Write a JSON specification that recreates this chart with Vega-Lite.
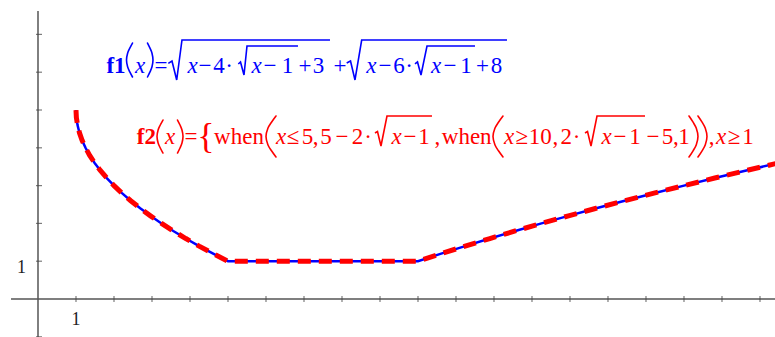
{
  "$schema": "https://vega.github.io/schema/vega-lite/v6.json",
  "width": 775,
  "height": 337,
  "padding": 0,
  "autosize": "none",
  "background": "white",
  "config": {"view": {"stroke": null}},
  "datasets": {
    "curves": [
      {"fn": "f1", "x": 1, "y": 5}, {"fn": "f1", "x": 1.01, "y": 4.8}, {"fn": "f1", "x": 1.04, "y": 4.6},
      {"fn": "f1", "x": 1.09, "y": 4.4}, {"fn": "f1", "x": 1.16, "y": 4.2}, {"fn": "f1", "x": 1.25, "y": 4.0},
      {"fn": "f1", "x": 1.36, "y": 3.8}, {"fn": "f1", "x": 1.49, "y": 3.6}, {"fn": "f1", "x": 1.64, "y": 3.4},
      {"fn": "f1", "x": 1.81, "y": 3.2}, {"fn": "f1", "x": 2, "y": 3.0}, {"fn": "f1", "x": 2.21, "y": 2.8},
      {"fn": "f1", "x": 2.44, "y": 2.6}, {"fn": "f1", "x": 2.69, "y": 2.4}, {"fn": "f1", "x": 2.96, "y": 2.2},
      {"fn": "f1", "x": 3.25, "y": 2.0}, {"fn": "f1", "x": 3.56, "y": 1.8}, {"fn": "f1", "x": 3.89, "y": 1.6},
      {"fn": "f1", "x": 4.24, "y": 1.4}, {"fn": "f1", "x": 4.61, "y": 1.2}, {"fn": "f1", "x": 5, "y": 1.0},
      {"fn": "f1", "x": 10, "y": 1.0}, {"fn": "f1", "x": 10.61, "y": 1.2}, {"fn": "f1", "x": 11.24, "y": 1.4},
      {"fn": "f1", "x": 11.89, "y": 1.6}, {"fn": "f1", "x": 12.56, "y": 1.8}, {"fn": "f1", "x": 13.25, "y": 2.0},
      {"fn": "f1", "x": 13.96, "y": 2.2}, {"fn": "f1", "x": 14.69, "y": 2.4}, {"fn": "f1", "x": 15.44, "y": 2.6},
      {"fn": "f1", "x": 16.21, "y": 2.8}, {"fn": "f1", "x": 17, "y": 3.0}, {"fn": "f1", "x": 17.81, "y": 3.2},
      {"fn": "f1", "x": 18.64, "y": 3.4}, {"fn": "f1", "x": 19.49, "y": 3.6}, {"fn": "f1", "x": 20.36, "y": 3.8},
      {"fn": "f2", "x": 1, "y": 5}, {"fn": "f2", "x": 1.01, "y": 4.8}, {"fn": "f2", "x": 1.04, "y": 4.6},
      {"fn": "f2", "x": 1.09, "y": 4.4}, {"fn": "f2", "x": 1.16, "y": 4.2}, {"fn": "f2", "x": 1.25, "y": 4.0},
      {"fn": "f2", "x": 1.36, "y": 3.8}, {"fn": "f2", "x": 1.49, "y": 3.6}, {"fn": "f2", "x": 1.64, "y": 3.4},
      {"fn": "f2", "x": 1.81, "y": 3.2}, {"fn": "f2", "x": 2, "y": 3.0}, {"fn": "f2", "x": 2.21, "y": 2.8},
      {"fn": "f2", "x": 2.44, "y": 2.6}, {"fn": "f2", "x": 2.69, "y": 2.4}, {"fn": "f2", "x": 2.96, "y": 2.2},
      {"fn": "f2", "x": 3.25, "y": 2.0}, {"fn": "f2", "x": 3.56, "y": 1.8}, {"fn": "f2", "x": 3.89, "y": 1.6},
      {"fn": "f2", "x": 4.24, "y": 1.4}, {"fn": "f2", "x": 4.61, "y": 1.2}, {"fn": "f2", "x": 5, "y": 1.0},
      {"fn": "f2", "x": 10, "y": 1.0}, {"fn": "f2", "x": 10.61, "y": 1.2}, {"fn": "f2", "x": 11.24, "y": 1.4},
      {"fn": "f2", "x": 11.89, "y": 1.6}, {"fn": "f2", "x": 12.56, "y": 1.8}, {"fn": "f2", "x": 13.25, "y": 2.0},
      {"fn": "f2", "x": 13.96, "y": 2.2}, {"fn": "f2", "x": 14.69, "y": 2.4}, {"fn": "f2", "x": 15.44, "y": 2.6},
      {"fn": "f2", "x": 16.21, "y": 2.8}, {"fn": "f2", "x": 17, "y": 3.0}, {"fn": "f2", "x": 17.81, "y": 3.2},
      {"fn": "f2", "x": 18.64, "y": 3.4}, {"fn": "f2", "x": 19.49, "y": 3.6}, {"fn": "f2", "x": 20.36, "y": 3.8}
    ],
    "axisLines": [
      {"x": -0.71, "x2": 19.4, "y": 0, "y2": 0},
      {"x": 0, "x2": 0, "y": -1.1, "y2": 7.62}
    ],
    "xTicks": [
      {"x": 1, "y": 0}, {"x": 2, "y": 0}, {"x": 3, "y": 0}, {"x": 4, "y": 0}, {"x": 5, "y": 0},
      {"x": 6, "y": 0}, {"x": 7, "y": 0}, {"x": 8, "y": 0}, {"x": 9, "y": 0}, {"x": 10, "y": 0},
      {"x": 11, "y": 0}, {"x": 12, "y": 0}, {"x": 13, "y": 0}, {"x": 14, "y": 0}, {"x": 15, "y": 0},
      {"x": 16, "y": 0}, {"x": 17, "y": 0}, {"x": 18, "y": 0}, {"x": 19, "y": 0}
    ],
    "yTicks": [
      {"x": 0, "y": -1}, {"x": 0, "y": 1}, {"x": 0, "y": 2}, {"x": 0, "y": 3}, {"x": 0, "y": 4},
      {"x": 0, "y": 5}, {"x": 0, "y": 6}, {"x": 0, "y": 7}
    ],
    "xLabels": [{"x": 1, "y": 0, "t": "1"}],
    "yLabels": [{"x": 0, "y": 1, "t": "1"}],

    "f1Name": [{"x": 2.053, "y": 5.987, "t": "f1"}],
    "f1Italic": [
      {"x": 2.684, "y": 5.987, "t": "x"}, {"x": 4.066, "y": 5.987, "t": "x"}, {"x": 5.75, "y": 5.987, "t": "x"},
      {"x": 8.776, "y": 5.987, "t": "x"}, {"x": 10.474, "y": 5.987, "t": "x"}
    ],
    "f1Upright": [
      {"x": 3.237, "y": 5.987, "t": "="},
      {"x": 4.395, "y": 5.987, "t": "−"}, {"x": 4.763, "y": 5.987, "t": "4"}, {"x": 5.026, "y": 5.987, "t": "·"},
      {"x": 6.105, "y": 5.987, "t": "−"}, {"x": 6.566, "y": 5.987, "t": "1"},
      {"x": 7.026, "y": 5.987, "t": "+"}, {"x": 7.382, "y": 5.987, "t": "3"},
      {"x": 7.947, "y": 5.987, "t": "+"},
      {"x": 9.132, "y": 5.987, "t": "−"}, {"x": 9.5, "y": 5.987, "t": "6"}, {"x": 9.763, "y": 5.987, "t": "·"},
      {"x": 10.842, "y": 5.987, "t": "−"}, {"x": 11.263, "y": 5.987, "t": "1"},
      {"x": 11.697, "y": 5.987, "t": "+"}, {"x": 12.066, "y": 5.987, "t": "8"}
    ],
    "f1Strokes": [
      {"id": "r1", "k": 0, "x": 3.429, "y": 6.235}, {"id": "r1", "k": 1, "x": 3.526, "y": 6.296},
      {"id": "r1", "k": 2, "x": 3.65, "y": 5.794}, {"id": "r1", "k": 3, "x": 3.789, "y": 6.852},
      {"id": "r1", "k": 4, "x": 7.684, "y": 6.852},
      {"id": "r2", "k": 0, "x": 5.271, "y": 6.217}, {"id": "r2", "k": 1, "x": 5.329, "y": 6.27},
      {"id": "r2", "k": 2, "x": 5.421, "y": 5.926}, {"id": "r2", "k": 3, "x": 5.5, "y": 6.693},
      {"id": "r2", "k": 4, "x": 6.842, "y": 6.693},
      {"id": "r3", "k": 0, "x": 8.124, "y": 6.243}, {"id": "r3", "k": 1, "x": 8.224, "y": 6.296},
      {"id": "r3", "k": 2, "x": 8.342, "y": 5.794}, {"id": "r3", "k": 3, "x": 8.518, "y": 6.852},
      {"id": "r3", "k": 4, "x": 12.342, "y": 6.852},
      {"id": "r4", "k": 0, "x": 9.921, "y": 6.217}, {"id": "r4", "k": 1, "x": 9.987, "y": 6.27},
      {"id": "r4", "k": 2, "x": 10.079, "y": 5.926}, {"id": "r4", "k": 3, "x": 10.237, "y": 6.693},
      {"id": "r4", "k": 4, "x": 11.5, "y": 6.693}
    ],
    "f1Parens": [
      {"id": "p1", "k": 0, "x": 2.487, "y": 6.772}, {"id": "p1", "k": 1, "x": 2.416, "y": 6.638},
      {"id": "p1", "k": 2, "x": 2.358, "y": 6.503}, {"id": "p1", "k": 3, "x": 2.329, "y": 6.323},
      {"id": "p1", "k": 4, "x": 2.358, "y": 6.143}, {"id": "p1", "k": 5, "x": 2.416, "y": 6.008},
      {"id": "p1", "k": 6, "x": 2.487, "y": 5.873},
      {"id": "p2", "k": 0, "x": 2.882, "y": 6.772}, {"id": "p2", "k": 1, "x": 2.947, "y": 6.638},
      {"id": "p2", "k": 2, "x": 3.0, "y": 6.503}, {"id": "p2", "k": 3, "x": 3.026, "y": 6.323},
      {"id": "p2", "k": 4, "x": 3.0, "y": 6.143}, {"id": "p2", "k": 5, "x": 2.947, "y": 6.008},
      {"id": "p2", "k": 6, "x": 2.882, "y": 5.873}
    ],

    "f2Name": [{"x": 2.85, "y": 4.093, "t": "f2"}],
    "f2Italic": [
      {"x": 3.474, "y": 4.093, "t": "x"}, {"x": 6.395, "y": 4.093, "t": "x"}, {"x": 9.439, "y": 4.093, "t": "x"},
      {"x": 12.395, "y": 4.093, "t": "x"}, {"x": 14.966, "y": 4.093, "t": "x"}, {"x": 17.974, "y": 4.093, "t": "x"}
    ],
    "f2Upright": [
      {"x": 4.026, "y": 4.093, "t": "="},
      {"x": 5.289, "y": 4.093, "t": "when"},
      {"x": 6.711, "y": 4.093, "t": "≤"}, {"x": 7.092, "y": 4.093, "t": "5"}, {"x": 7.303, "y": 4.093, "t": ","},
      {"x": 7.579, "y": 4.093, "t": "5"}, {"x": 8.0, "y": 4.093, "t": "−"}, {"x": 8.408, "y": 4.093, "t": "2"},
      {"x": 8.684, "y": 4.093, "t": "·"},
      {"x": 9.789, "y": 4.093, "t": "−"}, {"x": 10.158, "y": 4.093, "t": "1"},
      {"x": 10.513, "y": 4.093, "t": ","}, {"x": 11.282, "y": 4.093, "t": "when"},
      {"x": 12.729, "y": 4.093, "t": "≥"}, {"x": 13.22, "y": 4.093, "t": "10"}, {"x": 13.615, "y": 4.093, "t": ","},
      {"x": 13.9, "y": 4.093, "t": "2"}, {"x": 14.171, "y": 4.093, "t": "·"},
      {"x": 15.316, "y": 4.093, "t": "−"}, {"x": 15.711, "y": 4.093, "t": "1"},
      {"x": 16.184, "y": 4.093, "t": "−"}, {"x": 16.566, "y": 4.093, "t": "5"}, {"x": 16.789, "y": 4.093, "t": ","},
      {"x": 17.0, "y": 4.093, "t": "1"},
      {"x": 17.724, "y": 4.093, "t": ","}, {"x": 18.316, "y": 4.093, "t": "≥"}, {"x": 18.684, "y": 4.093, "t": "1"}
    ],
    "f2Brace": [{"x": 4.421, "y": 4.299, "t": "{"}],
    "f2Strokes": [
      {"id": "r1", "k": 0, "x": 8.868, "y": 4.392}, {"id": "r1", "k": 1, "x": 8.934, "y": 4.431},
      {"id": "r1", "k": 2, "x": 9.026, "y": 4.048}, {"id": "r1", "k": 3, "x": 9.184, "y": 4.841},
      {"id": "r1", "k": 4, "x": 10.368, "y": 4.841},
      {"id": "r2", "k": 0, "x": 14.395, "y": 4.392}, {"id": "r2", "k": 1, "x": 14.461, "y": 4.431},
      {"id": "r2", "k": 2, "x": 14.553, "y": 4.048}, {"id": "r2", "k": 3, "x": 14.711, "y": 4.841},
      {"id": "r2", "k": 4, "x": 15.974, "y": 4.841}
    ],
    "f2Parens": [
      {"id": "p1", "k": 0, "x": 3.289, "y": 4.735}, {"id": "p1", "k": 1, "x": 3.218, "y": 4.603},
      {"id": "p1", "k": 2, "x": 3.161, "y": 4.471}, {"id": "p1", "k": 3, "x": 3.132, "y": 4.299},
      {"id": "p1", "k": 4, "x": 3.161, "y": 4.127}, {"id": "p1", "k": 5, "x": 3.218, "y": 3.995},
      {"id": "p1", "k": 6, "x": 3.289, "y": 3.862},
      {"id": "p2", "k": 0, "x": 3.671, "y": 4.735}, {"id": "p2", "k": 1, "x": 3.737, "y": 4.603},
      {"id": "p2", "k": 2, "x": 3.789, "y": 4.471}, {"id": "p2", "k": 3, "x": 3.816, "y": 4.299},
      {"id": "p2", "k": 4, "x": 3.789, "y": 4.127}, {"id": "p2", "k": 5, "x": 3.737, "y": 3.995},
      {"id": "p2", "k": 6, "x": 3.671, "y": 3.862},
      {"id": "p3", "k": 0, "x": 6.263, "y": 4.841}, {"id": "p3", "k": 1, "x": 6.145, "y": 4.677},
      {"id": "p3", "k": 2, "x": 6.05, "y": 4.516}, {"id": "p3", "k": 3, "x": 6.0, "y": 4.299},
      {"id": "p3", "k": 4, "x": 6.05, "y": 4.082}, {"id": "p3", "k": 5, "x": 6.145, "y": 3.921},
      {"id": "p3", "k": 6, "x": 6.263, "y": 3.757},
      {"id": "p4", "k": 0, "x": 12.237, "y": 4.841}, {"id": "p4", "k": 1, "x": 12.118, "y": 4.677},
      {"id": "p4", "k": 2, "x": 12.024, "y": 4.516}, {"id": "p4", "k": 3, "x": 11.974, "y": 4.299},
      {"id": "p4", "k": 4, "x": 12.024, "y": 4.082}, {"id": "p4", "k": 5, "x": 12.118, "y": 3.921},
      {"id": "p4", "k": 6, "x": 12.237, "y": 3.757},
      {"id": "p5", "k": 0, "x": 17.132, "y": 4.841}, {"id": "p5", "k": 1, "x": 17.239, "y": 4.677},
      {"id": "p5", "k": 2, "x": 17.324, "y": 4.516}, {"id": "p5", "k": 3, "x": 17.368, "y": 4.299},
      {"id": "p5", "k": 4, "x": 17.324, "y": 4.082}, {"id": "p5", "k": 5, "x": 17.239, "y": 3.921},
      {"id": "p5", "k": 6, "x": 17.132, "y": 3.757},
      {"id": "p6", "k": 0, "x": 17.368, "y": 4.841}, {"id": "p6", "k": 1, "x": 17.476, "y": 4.677},
      {"id": "p6", "k": 2, "x": 17.561, "y": 4.516}, {"id": "p6", "k": 3, "x": 17.605, "y": 4.299},
      {"id": "p6", "k": 4, "x": 17.561, "y": 4.082}, {"id": "p6", "k": 5, "x": 17.476, "y": 3.921},
      {"id": "p6", "k": 6, "x": 17.368, "y": 3.757}
    ]
  },
  "encoding": {
    "x": {"field": "x", "type": "quantitative", "scale": {"domain": [-1.0, 19.395], "nice": false, "zero": false}, "axis": null},
    "y": {"field": "y", "type": "quantitative", "scale": {"domain": [-1.005, 7.91], "nice": false, "zero": false}, "axis": null}
  },
  "layer": [
    {
      "data": {"name": "axisLines"},
      "mark": {"type": "rule", "color": "#555555", "strokeWidth": 1.5},
      "encoding": {"x2": {"field": "x2"}, "y2": {"field": "y2"}}
    },
    {
      "data": {"name": "xTicks"},
      "mark": {"type": "tick", "orient": "vertical", "size": 6, "thickness": 1.2, "color": "#444444"}
    },
    {
      "data": {"name": "yTicks"},
      "mark": {"type": "tick", "orient": "horizontal", "size": 6, "thickness": 1.2, "color": "#444444", "xOffset": 1}
    },
    {
      "data": {"name": "xLabels"},
      "mark": {"type": "text", "font": "Liberation Serif", "fontSize": 18, "color": "#222222", "align": "center", "baseline": "alphabetic", "dy": 26},
      "encoding": {"text": {"field": "t"}}
    },
    {
      "data": {"name": "yLabels"},
      "mark": {"type": "text", "font": "Liberation Serif", "fontSize": 18, "color": "#222222", "align": "center", "baseline": "alphabetic", "dx": -16.5, "dy": 12},
      "encoding": {"text": {"field": "t"}}
    },
    {
      "data": {"name": "curves"},
      "transform": [{"filter": "datum.fn === 'f1'"}],
      "mark": {"type": "line", "color": "#0000ff", "strokeWidth": 2.5, "clip": true}
    },
    {
      "data": {"name": "curves"},
      "transform": [{"filter": "datum.fn === 'f2'"}],
      "mark": {"type": "line", "color": "#ff0000", "strokeWidth": 5, "strokeDash": [13, 8], "clip": true}
    },
    {
      "data": {"name": "f1Name"},
      "mark": {"type": "text", "font": "Liberation Serif", "fontSize": 23, "fontWeight": "bold", "color": "#0000ff", "align": "center", "baseline": "alphabetic"},
      "encoding": {"text": {"field": "t"}}
    },
    {
      "data": {"name": "f1Italic"},
      "mark": {"type": "text", "font": "Liberation Serif", "fontSize": 23, "fontStyle": "italic", "color": "#0000ff", "align": "center", "baseline": "alphabetic"},
      "encoding": {"text": {"field": "t"}}
    },
    {
      "data": {"name": "f1Upright"},
      "mark": {"type": "text", "font": "Liberation Serif", "fontSize": 23, "color": "#0000ff", "align": "center", "baseline": "alphabetic"},
      "encoding": {"text": {"field": "t"}}
    },
    {
      "data": {"name": "f1Strokes"},
      "mark": {"type": "line", "color": "#0000ff", "strokeWidth": 1.6, "strokeJoin": "miter"},
      "encoding": {"detail": {"field": "id"}, "order": {"field": "k"}}
    },
    {
      "data": {"name": "f1Parens"},
      "mark": {"type": "line", "color": "#0000ff", "strokeWidth": 1.6, "interpolate": "cardinal", "strokeCap": "round"},
      "encoding": {"detail": {"field": "id"}, "order": {"field": "k"}}
    },
    {
      "data": {"name": "f2Name"},
      "mark": {"type": "text", "font": "Liberation Serif", "fontSize": 23, "fontWeight": "bold", "color": "#ff0000", "align": "center", "baseline": "alphabetic"},
      "encoding": {"text": {"field": "t"}}
    },
    {
      "data": {"name": "f2Italic"},
      "mark": {"type": "text", "font": "Liberation Serif", "fontSize": 23, "fontStyle": "italic", "color": "#ff0000", "align": "center", "baseline": "alphabetic"},
      "encoding": {"text": {"field": "t"}}
    },
    {
      "data": {"name": "f2Upright"},
      "mark": {"type": "text", "font": "Liberation Serif", "fontSize": 23, "color": "#ff0000", "align": "center", "baseline": "alphabetic"},
      "encoding": {"text": {"field": "t"}}
    },
    {
      "data": {"name": "f2Brace"},
      "mark": {"type": "text", "font": "Liberation Serif", "fontSize": 36, "color": "#ff0000", "align": "center", "baseline": "middle"},
      "encoding": {"text": {"field": "t"}}
    },
    {
      "data": {"name": "f2Strokes"},
      "mark": {"type": "line", "color": "#ff0000", "strokeWidth": 1.6, "strokeJoin": "miter"},
      "encoding": {"detail": {"field": "id"}, "order": {"field": "k"}}
    },
    {
      "data": {"name": "f2Parens"},
      "mark": {"type": "line", "color": "#ff0000", "strokeWidth": 1.6, "interpolate": "cardinal", "strokeCap": "round"},
      "encoding": {"detail": {"field": "id"}, "order": {"field": "k"}}
    }
  ]
}
